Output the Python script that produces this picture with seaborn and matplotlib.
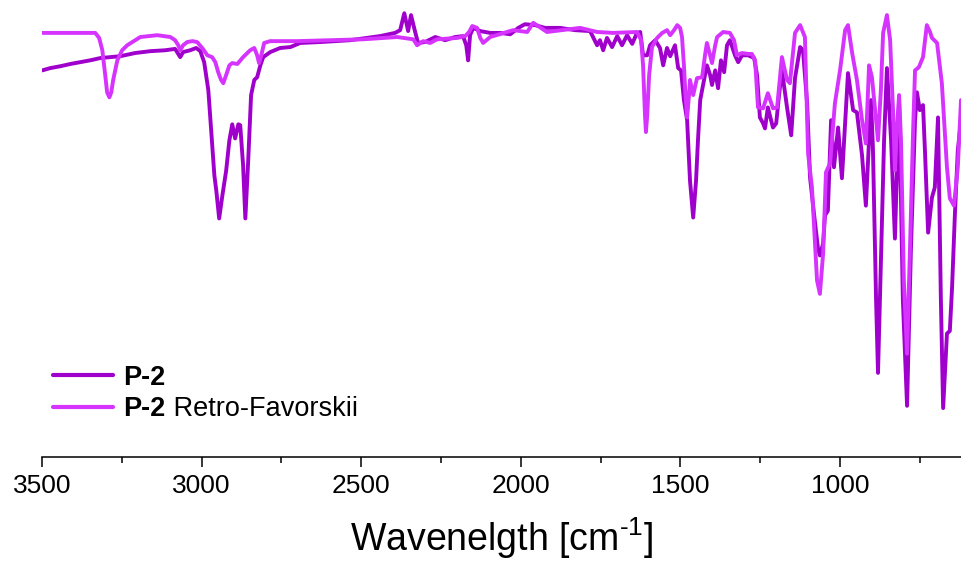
import numpy as np
import pandas as pd
import matplotlib
matplotlib.use("Agg")
import matplotlib.pyplot as plt
import seaborn as sns

# ---------------- data ----------------
p2_wn = [3499, 3474, 3443, 3411, 3380, 3349, 3317, 3286, 3255, 3208, 3161, 3114, 3083, 3067, 3058,
         3036, 3017, 3004, 2992, 2979, 2970, 2960, 2954, 2945, 2935, 2923, 2913, 2904, 2895, 2885,
         2879, 2870, 2863, 2854, 2845, 2835, 2826, 2816, 2807, 2785, 2754, 2722, 2691, 2628, 2535,
         2441, 2394, 2378, 2365, 2353, 2344, 2331, 2322, 2300, 2268, 2237, 2206, 2181, 2171, 2165,
         2159, 2149, 2127, 2096, 2065, 2033, 2008, 1987, 1955, 1924, 1877, 1830, 1783, 1761, 1752,
         1742, 1730, 1714, 1698, 1683, 1667, 1651, 1636, 1626, 1617, 1604, 1595, 1579, 1564, 1554,
         1542, 1532, 1517, 1507, 1498, 1489, 1479, 1470, 1460, 1451, 1445, 1438, 1426, 1417, 1407,
         1401, 1391, 1382, 1373, 1363, 1354, 1345, 1329, 1319, 1307, 1288, 1269, 1260, 1251, 1241,
         1235, 1226, 1216, 1210, 1200, 1191, 1182, 1166, 1153, 1141, 1125, 1116, 1103, 1094, 1081,
         1069, 1063, 1053, 1047, 1038, 1028, 1019, 1006, 994, 975, 959, 947, 931, 919, 903,
         897, 887, 881, 875, 862, 853, 840, 828, 815, 803, 790, 778, 765, 759, 750,
         740, 734, 724, 712, 703, 693, 684, 677, 665, 656, 649, 640, 631, 621]
p2_T = [84.6, 85.1, 85.5, 86.0, 86.4, 86.8, 87.3, 87.5, 87.7, 88.4, 88.8, 89.0, 89.3, 87.5, 88.6,
        89.0, 89.5, 88.8, 86.4, 80.3, 71.5, 61.6, 58.3, 52.2, 57.2, 62.7, 69.3, 72.8, 69.7, 72.8,
        72.6, 63.8, 52.2, 64.9, 79.2, 82.5, 83.1, 85.7, 87.5, 88.6, 89.5, 89.7, 90.6, 90.8, 91.2,
        92.1, 92.8, 93.4, 97.1, 93.2, 96.7, 93.0, 90.6, 90.8, 91.9, 91.2, 91.9, 92.1, 90.1, 86.8,
        92.3, 93.9, 93.2, 92.8, 92.8, 92.5, 93.9, 94.7, 94.5, 93.9, 93.9, 93.4, 93.2, 90.1, 91.2,
        89.0, 91.7, 89.7, 92.1, 90.1, 92.3, 90.4, 92.8, 93.0, 87.9, 87.9, 90.1, 91.2, 89.5, 85.7,
        89.5, 87.7, 90.1, 85.1, 84.6, 78.1, 73.7, 60.5, 52.4, 60.5, 69.3, 78.1, 82.5, 85.7, 83.6,
        81.4, 84.6, 80.7, 86.8, 84.2, 90.1, 91.2, 87.9, 86.4, 87.9, 87.9, 87.3, 83.6, 74.3, 73.0,
        71.9, 76.5, 73.7, 72.1, 73.0, 79.2, 84.6, 76.5, 70.4, 82.9, 89.7, 89.0, 77.4, 61.2, 52.9,
        45.6, 44.1, 46.7, 52.9, 53.9, 73.7, 63.4, 72.1, 61.0, 84.0, 75.9, 75.4, 66.0, 55.0, 78.1,
        67.8, 34.2, 18.4, 34.2, 69.3, 85.1, 69.3, 47.8, 78.1, 34.2, 11.2, 45.2, 73.7, 79.8, 75.9,
        77.0, 67.1, 49.1, 56.8, 59.0, 74.3, 34.2, 10.7, 27.0, 27.6, 37.1, 53.3, 67.1, 73.7]

rf_wn = [3499, 3333, 3321, 3311, 3302, 3296, 3289, 3283, 3277, 3264, 3249, 3233, 3192, 3139, 3098,
         3083, 3073, 3067, 3058, 3045, 3029, 3014, 2998, 2982, 2967, 2957, 2948, 2939, 2932, 2923,
         2913, 2904, 2888, 2870, 2848, 2835, 2826, 2820, 2813, 2804, 2785, 2700, 2597, 2494, 2387,
         2337, 2325, 2306, 2284, 2262, 2199, 2174, 2162, 2152, 2137, 2127, 2118, 2096, 2024, 1980,
         1961, 1918, 1814, 1761, 1711, 1636, 1623, 1617, 1611, 1608, 1604, 1598, 1589, 1573, 1557,
         1542, 1532, 1520, 1510, 1501, 1495, 1489, 1485, 1479, 1473, 1470, 1460, 1448, 1432, 1423,
         1417, 1407, 1401, 1391, 1385, 1366, 1345, 1332, 1323, 1307, 1288, 1276, 1266, 1257, 1241,
         1226, 1210, 1197, 1182, 1166, 1157, 1141, 1125, 1110, 1100, 1088, 1072, 1063, 1053, 1044,
         1031, 1016, 1000, 984, 975, 962, 947, 931, 919, 909, 900, 890, 881, 872, 865,
         853, 843, 834, 828, 822, 815, 809, 800, 790, 781, 771, 765, 753, 740, 728,
         718, 712, 696, 681, 665, 656, 643, 631, 621]
rf_T = [92.8, 92.8, 91.7, 89.0, 83.6, 79.8, 78.7, 79.8, 82.5, 86.8, 89.0, 90.1, 91.9, 92.3, 91.9,
        91.2, 90.1, 89.0, 90.1, 90.8, 91.0, 90.8, 89.5, 87.9, 87.5, 86.4, 84.2, 82.5, 81.8, 83.6,
        85.7, 86.2, 86.0, 87.5, 89.0, 89.5, 87.9, 86.2, 87.9, 90.6, 91.0, 91.0, 91.2, 91.4, 91.9,
        91.4, 90.1, 91.0, 90.6, 91.4, 91.7, 92.1, 93.0, 94.3, 93.9, 91.7, 90.6, 91.9, 93.4, 93.0,
        95.0, 93.0, 93.9, 93.0, 92.8, 93.0, 91.2, 85.7, 74.8, 71.1, 74.8, 83.6, 89.7, 91.7, 92.8,
        93.4, 92.3, 93.4, 94.5, 93.9, 91.9, 85.7, 80.3, 74.3, 79.2, 82.5, 79.2, 82.9, 83.1, 87.9,
        90.6, 87.9, 86.2, 90.1, 91.9, 93.0, 92.8, 91.2, 87.9, 88.4, 88.2, 88.2, 86.8, 76.5, 76.3,
        79.6, 76.3, 76.5, 87.5, 82.5, 81.8, 92.8, 94.5, 91.9, 66.4, 59.0, 38.6, 35.7, 44.5, 62.3,
        64.3, 77.4, 84.6, 93.4, 94.5, 88.4, 82.5, 73.7, 68.6, 85.7, 83.1, 75.9, 69.3, 80.3, 92.8,
        96.7, 91.2, 75.9, 62.7, 71.5, 79.2, 69.3, 38.6, 22.6, 45.2, 71.5, 84.6, 85.3, 87.5, 94.5,
        93.0, 91.7, 90.6, 81.8, 63.4, 56.6, 55.0, 63.4, 78.1]

series_names = ["P-2", "P-2 Retro-Favorskii"]
legend_bold = ["P-2", "P-2"]
legend_rest = ["", " Retro-Favorskii"]
series_colors = ["#A000CB", "#D633FF"]
major_ticks = [3500, 3000, 2500, 2000, 1500, 1000]
minor_ticks = [3250, 2750, 2250, 1750, 1250, 750]
x_label = r"Wavenelgth [cm$^{\text{-}1}$]"

df = pd.concat([
    pd.DataFrame({"wn": p2_wn, "T": p2_T, "sample": series_names[0]}),
    pd.DataFrame({"wn": rf_wn, "T": rf_T, "sample": series_names[1]}),
], ignore_index=True)

# ---------------- style ----------------
sns.set_style("white")
plt.rcParams["font.family"] = ["Liberation Sans", "DejaVu Sans"]
plt.rcParams["text.color"] = "black"
plt.rcParams["axes.labelcolor"] = "black"
plt.rcParams["xtick.color"] = "black"
plt.rcParams["mathtext.fontset"] = "custom"
plt.rcParams["mathtext.rm"] = "Liberation Sans"
plt.rcParams["mathtext.it"] = "Liberation Sans:italic"
plt.rcParams["mathtext.bf"] = "Liberation Sans:bold"

fig = plt.figure(figsize=(9.61, 5.63), dpi=100)
ax = fig.add_axes([42 / 961, 106 / 563, 1 - 42 / 961, 1 - 106 / 563])

sns.lineplot(data=df, x="wn", y="T", hue="sample", hue_order=series_names,
             palette=dict(zip(series_names, series_colors)), estimator=None,
             errorbar=None, linewidth=2.8, ax=ax, legend=True)

ax.set_xlim(3500, 621)
ax.set_ylim(0, 100)

for s in ["left", "right", "top"]:
    ax.spines[s].set_visible(False)
ax.spines["bottom"].set_linewidth(1.1)
ax.spines["bottom"].set_color("black")

ax.set_xticks(major_ticks)
ax.set_xticklabels([str(t) for t in major_ticks])
ax.set_xticks(minor_ticks, minor=True)
ax.set_yticks([])
ax.tick_params(axis="x", which="major", direction="out", length=7.5, width=1.1,
               labelsize=19, pad=5, color="black", labelcolor="black", bottom=True)
ax.tick_params(axis="x", which="minor", direction="out", length=4.5, width=1.1,
               color="black", bottom=True)
ax.set_ylabel("")
ax.set_xlabel(x_label, fontsize=27, labelpad=12, color="black")

handles, labels = ax.get_legend_handles_labels()
leg = ax.legend(handles, labels, loc="center left", bbox_to_anchor=(0.012, 0.139),
                frameon=False, fontsize=19.5, handlelength=2.2, handletextpad=0.4,
                labelspacing=0.2, borderpad=0, borderaxespad=0)
for h in leg.get_lines():
    h.set_linewidth(3.0)
texts = leg.get_texts()
for t, b in zip(texts, legend_bold):
    t.set_text(b)
    t.set_fontweight("bold")
    t.set_color("black")

fig.canvas.draw()
for t, rest in zip(texts, legend_rest):
    if rest:
        ax.annotate(rest, xy=(1, 0), xycoords=t, ha="left", va="bottom",
                    fontsize=19.5, fontweight="normal", color="black", zorder=10)

fig.savefig("out.png", dpi=100)
